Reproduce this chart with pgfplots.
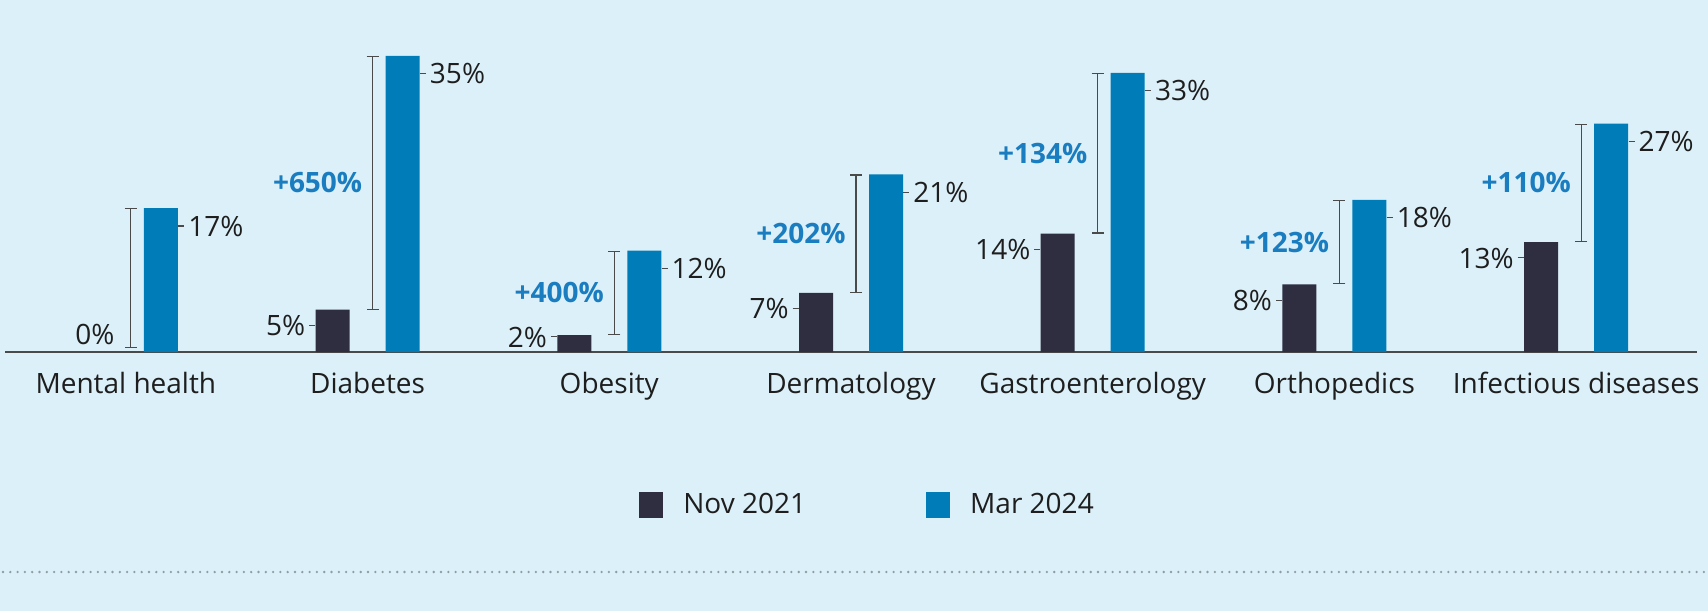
\documentclass[border=0pt]{standalone}
\usepackage{pgfplots}
\pgfplotsset{compat=1.18}
\usetikzlibrary{arrows.meta}
\usepackage{fontspec}
\setmainfont{Open Sans}
\definecolor{bgc}{HTML}{DCF0F9}
\definecolor{darkbar}{HTML}{2E2E40}
\definecolor{bluebar}{HTML}{007DB8}
\definecolor{pctblue}{HTML}{1A7DC0}
\definecolor{txt}{HTML}{1E1E1E}
\definecolor{brk}{HTML}{4A4A4A}
\definecolor{dots}{HTML}{8E9CA3}
\newcommand\lbl{\fontsize{14pt}{16pt}\selectfont}
\newcommand\dash{\textcolor{brk}{\rule[4.8pt]{3pt}{0.6pt}}}
\begin{document}
\begin{tikzpicture}
\fill[bgc, use as bounding box] (-2.5pt,-129.5pt) rectangle (851.5pt,176pt);
\draw[dots, line width=1.3pt, line cap=round, dash pattern=on 0pt off 3.65pt] (-1pt,-110pt) -- (851.5pt,-110pt);
\begin{axis}[
  at={(0,0)}, anchor=south west,
  scale only axis, width=846pt, height=176pt,
  xmin=-0.5, xmax=6.5, ymin=0, ymax=41.62,
  clip=false,
  /pgf/number format/assume math mode=true,
  axis x line*=bottom, axis y line=none,
  x axis line style={draw=brk, line width=1pt},
  xtick={0,...,6},
  xticklabels={Mental health,Diabetes,Obesity,Dermatology,Gastroenterology,Orthopedics,Infectious diseases},
  major tick length=0pt,
  xticklabel style={font=\lbl, text=txt, inner sep=0pt, yshift=-10pt},
  legend style={at={(0.3747,-0.4347)}, anchor=west, draw=none, fill=none, inner sep=0pt,
    font=\lbl, text=txt, legend columns=2,
    /tikz/every odd column/.append style={column sep=8pt},
    /tikz/every even column/.append style={column sep=58pt}},
]
\addplot[ybar, bar width=17pt, bar shift=-17.5pt, fill=darkbar, draw=none,
  legend image code/.code={\fill[darkbar] (0pt,-6.5pt) rectangle (12pt,6.5pt);},
  visualization depends on={y \as \rawy},
  nodes near coords={\pgfmathprintnumber{\pgfplotspointmeta}\%\hspace{2pt}\dash},
  nodes near coords style={anchor=east, xshift=-26pt, yshift={max(-8,7.5-\rawy*4.2285)}, font=\lbl, text=txt, inner sep=0pt}]
  coordinates {(1,5) (2,2) (3,7) (4,14) (5,8) (6,13)};
\addlegendentry{Nov 2021}
\addplot[ybar, bar width=17pt, bar shift=17.5pt, fill=bluebar, draw=none,
  legend image code/.code={\fill[bluebar] (0pt,-6.5pt) rectangle (12pt,6.5pt);},
  nodes near coords={\dash\hspace{2pt}\pgfmathprintnumber{\pgfplotspointmeta}\%},
  nodes near coords style={anchor=west, xshift=26pt, yshift=-9pt, font=\lbl, text=txt, inner sep=0pt}]
  coordinates {(0,17) (1,35) (2,12) (3,21) (4,33) (5,18) (6,27)};
\addlegendentry{Mar 2024}
% brackets: from Mar 2024 value down to Nov 2021 value
\addplot[forget plot, draw=none, mark=none,
  error bars/.cd, y dir=minus, y explicit, error mark=none,
  error bar style={draw=brk, line width=0.6pt, {Bar[width=6pt]-Bar[width=6pt]}}]
  coordinates {
    (0.0207,17) -= (0,16.5)
    (1.0207,35) -= (0,30)
    (2.0207,12) -= (0,10)
    (3.0207,21) -= (0,14)
    (4.0207,33) -= (0,19)
    (5.0207,18) -= (0,10)
    (6.0207,27) -= (0,14)
  };
% percentage change labels at bracket midpoints
\addplot[forget plot, only marks, mark=none,
  point meta=explicit symbolic,
  nodes near coords,
  nodes near coords style={anchor=east, xshift=-5pt, font=\lbl\bfseries, text=pctblue, inner sep=0pt}]
  coordinates {
    (1.0207,20) [+650\%]
    (2.0207,7) [+400\%]
    (3.0207,14) [+202\%]
    (4.0207,23.5) [+134\%]
    (5.0207,13) [+123\%]
    (6.0207,20) [+110\%]
  };
\node[anchor=east, font=\lbl, text=txt, inner sep=0pt] at (axis cs:-0.0455,2.13) {0\%};
\end{axis}
\end{tikzpicture}
\end{document}
